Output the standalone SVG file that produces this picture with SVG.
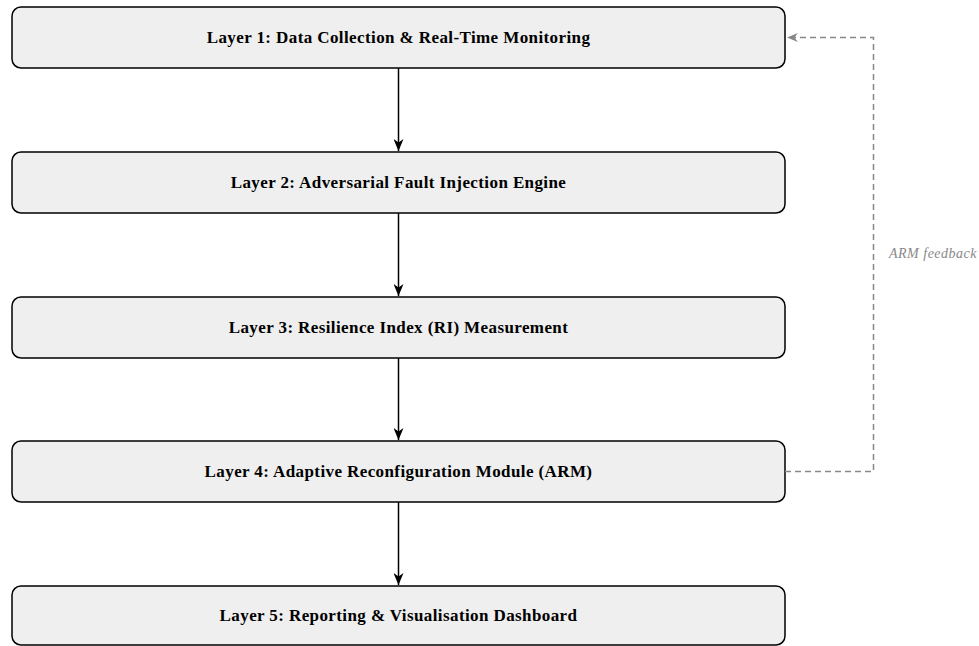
<svg xmlns="http://www.w3.org/2000/svg" width="979" height="646" viewBox="0 0 979 646">
<style>
.box{fill:#efefef;stroke:#000;stroke-width:1.5}
.lbl{font-family:"Liberation Serif",serif;font-weight:bold;font-size:17px;letter-spacing:0.4px;fill:#000;text-anchor:middle}
.flow{stroke:#000;stroke-width:1.5;fill:none}
.fb{stroke:#888;stroke-width:1.5;fill:none;stroke-dasharray:6,4}
.fbt{font-family:"Liberation Serif",serif;font-style:italic;font-size:14px;letter-spacing:0.5px;fill:#888}
</style>
<defs>
<marker id="ah" viewBox="0 0 12 10" refX="12" refY="5" markerWidth="12" markerHeight="10" markerUnits="userSpaceOnUse" orient="auto"><path d="M0,0 L12,5 L0,10 L3.5,5 Z" fill="#000"/></marker>
<marker id="ahg" viewBox="0 0 12 10" refX="12" refY="5" markerWidth="11" markerHeight="9" markerUnits="userSpaceOnUse" orient="auto"><path d="M0,0 L12,5 L0,10 L3.5,5 Z" fill="#888"/></marker>
</defs>
<g id="layer1"><rect class="box" x="12" y="7" width="773" height="61" rx="9"/><text class="lbl" x="398.5" y="43">Layer 1: Data Collection &amp; Real-Time Monitoring</text></g>
<g id="layer2"><rect class="box" x="12" y="152" width="773" height="61" rx="9"/><text class="lbl" x="398.5" y="188">Layer 2: Adversarial Fault Injection Engine</text></g>
<g id="layer3"><rect class="box" x="12" y="297" width="773" height="61" rx="9"/><text class="lbl" x="398.5" y="333">Layer 3: Resilience Index (RI) Measurement</text></g>
<g id="layer4"><rect class="box" x="12" y="441" width="773" height="61" rx="9"/><text class="lbl" x="398.5" y="477">Layer 4: Adaptive Reconfiguration Module (ARM)</text></g>
<g id="layer5"><rect class="box" x="12" y="586" width="773" height="59" rx="9"/><text class="lbl" x="398.5" y="621">Layer 5: Reporting &amp; Visualisation Dashboard</text></g>
<g id="connectors">
<line class="flow" x1="398.5" y1="68" x2="398.5" y2="151" marker-end="url(#ah)"/>
<line class="flow" x1="398.5" y1="213" x2="398.5" y2="296" marker-end="url(#ah)"/>
<line class="flow" x1="398.5" y1="358" x2="398.5" y2="440" marker-end="url(#ah)"/>
<line class="flow" x1="398.5" y1="502" x2="398.5" y2="585" marker-end="url(#ah)"/>
<path class="fb" d="M785,471.5 H873.5 V37.5 H787" marker-end="url(#ahg)"/>
<text class="fbt" x="889" y="258">ARM feedback</text>
</g>
</svg>
